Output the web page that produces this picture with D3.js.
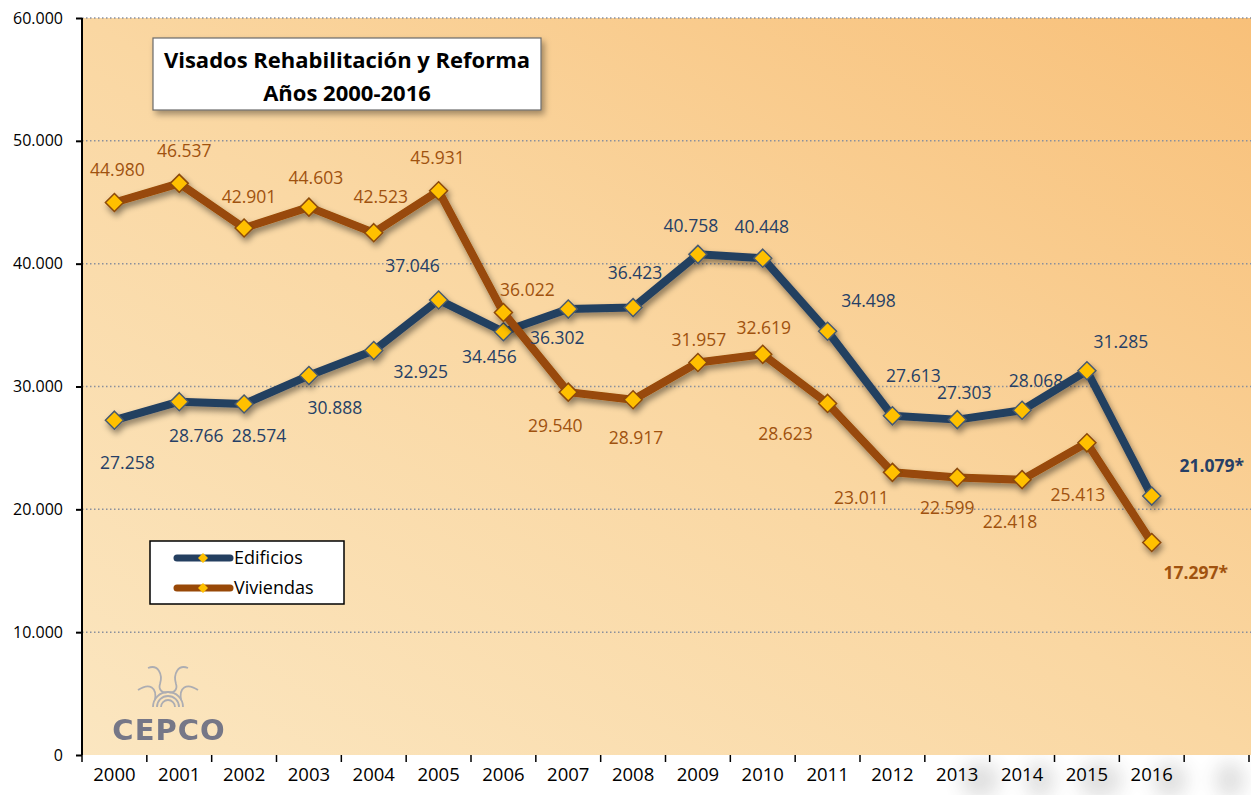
<!DOCTYPE html>
<html>
<head>
<meta charset="utf-8">
<script src="https://cdn.jsdelivr.net/npm/d3@7"></script>
<style>
  body { margin: 0; background: #fff; }
  svg { display: block; font-family: "Open Sans", "Noto Sans", sans-serif; }
</style>
</head>
<body>
<div id="chart"></div>
<script>
// Data
const years = ["2000", "2001", "2002", "2003", "2004", "2005", "2006", "2007", "2008",
  "2009", "2010", "2011", "2012", "2013", "2014", "2015", "2016"];
const edificios = [27258, 28766, 28574, 30888, 32925, 37046, 34456, 36302, 36423,
  40758, 40448, 34498, 27613, 27303, 28068, 31285, 21079];
const viviendas = [44980, 46537, 42901, 44603, 42523, 45931, 36022, 29540, 28917,
  31957, 32619, 28623, 23011, 22599, 22418, 25413, 17297];
const yTicks = [0, 10000, 20000, 30000, 40000, 50000, 60000];

// label placement relative to each point (dx, dy) - layout only
const edifOffsets = [[13, 49], [17, 40], [15, 38], [26, 38], [47, 27], [-26, -28], [-14, 31],
  [-11, 35], [2, -29], [-7, -22], [-1, -25], [41, -24], [21, -34], [7, -21], [14, -23], [34, -23], [60, -24]];
const vivOffsets = [[3, -26], [5, -26], [5, -25], [7, -23], [7, -30], [-1, -27], [24, -17],
  [-13, 40], [3, 44], [1, -16], [1, -20], [-42, 37], [-31, 32], [-10, 37], [-12, 48], [-9, 58], [44, 36]];

const width = 1251, height = 795;
const margin = { top: 18, left: 82, bottom: 40 };
const plotRight = 1249;
const NAVY = "#243f60", BROWN = "#984807", NAVY_TXT = "#263f66", BROWN_TXT = "#a0520f";

const fmt = v => d3.format(",")(v).replace(/,/g, ".");

const svg = d3.select("#chart").append("svg")
  .attr("width", width).attr("height", height);

const defs = svg.append("defs");
const grad = defs.append("linearGradient").attr("id", "bg")
  .attr("x1", "0%").attr("y1", "100%").attr("x2", "100%").attr("y2", "0%");
grad.append("stop").attr("offset", "0%").attr("stop-color", "#fbe6c0");
grad.append("stop").attr("offset", "50%").attr("stop-color", "#fad7a2");
grad.append("stop").attr("offset", "100%").attr("stop-color", "#f8c079");

const shadow = defs.append("filter").attr("id", "shadow")
  .attr("x", "-10%").attr("y", "-10%").attr("width", "130%").attr("height", "130%");
shadow.append("feDropShadow").attr("dx", 3).attr("dy", 4).attr("stdDeviation", 3)
  .attr("flood-color", "#000").attr("flood-opacity", 0.35);

const softShadow = defs.append("filter").attr("id", "soft")
  .attr("x", "-20%").attr("y", "-20%").attr("width", "140%").attr("height", "160%");
softShadow.append("feDropShadow").attr("dx", 2).attr("dy", 4).attr("stdDeviation", 3)
  .attr("flood-color", "#000").attr("flood-opacity", 0.45);

const blur = defs.append("filter").attr("id", "blur")
  .attr("x", "-50%").attr("y", "-50%").attr("width", "200%").attr("height", "200%");
blur.append("feGaussianBlur").attr("stdDeviation", 9);

const x = d3.scaleBand()
  .domain(years.concat([""]))
  .range([margin.left, plotRight]);
const y = d3.scaleLinear().domain([0, 60000]).range([height - margin.bottom, margin.top]);
const cx = d => x(d) + x.bandwidth() / 2;

// faint grey watermark below the axis, right side
const wm = svg.append("g").attr("filter", "url(#blur)").attr("opacity", 0.16);
[[980, 40], [1040, 30], [1100, 45], [1170, 35], [1230, 30]].forEach(([px, w]) => {
  wm.append("ellipse").attr("cx", px).attr("cy", 780).attr("rx", w / 2).attr("ry", 18).attr("fill", "#444");
});

// plot background
svg.append("rect")
  .attr("x", margin.left).attr("y", margin.top)
  .attr("width", width - margin.left).attr("height", y(0) - margin.top)
  .attr("fill", "url(#bg)");

// grid lines
svg.append("g").selectAll("line")
  .data(yTicks.filter(d => d > 0))
  .join("line")
  .attr("x1", margin.left).attr("x2", width)
  .attr("y1", d => y(d)).attr("y2", d => y(d))
  .attr("stroke", "#8a8f9c").attr("stroke-width", 1.5)
  .attr("stroke-dasharray", "1.5,2.5");

// logo
const logo = svg.append("g").attr("opacity", 0.8);
const lg = logo.append("g").attr("fill", "none").attr("stroke", "#9aa0b0").attr("stroke-width", 1.8);
[7, 11, 15].forEach(r => {
  lg.append("path").attr("d", d3.arc()({ innerRadius: r, outerRadius: r, startAngle: -Math.PI / 2, endAngle: Math.PI / 2 }))
    .attr("transform", "translate(168,707)");
});
lg.append("path").attr("d", "M148,668 C158,664 163,674 160,684 C158,690 163,694 168,692");
lg.append("path").attr("d", "M188,668 C178,664 173,674 176,684 C178,690 173,694 168,692");
lg.append("path").attr("d", "M138,690 C150,682 157,688 155,700");
lg.append("path").attr("d", "M198,690 C186,682 179,688 181,700");
logo.append("text")
  .attr("x", 169).attr("y", 740)
  .attr("text-anchor", "middle")
  .attr("font-family", "DejaVu Sans")
  .attr("font-weight", "bold")
  .attr("font-size", 29)
  .attr("letter-spacing", 1)
  .attr("fill", "#555c7a")
  .text("CEPCO");

// series lines
const line = d3.line().x((d, i) => cx(years[i])).y(d => y(d));
const series = [
  { name: "Edificios", values: edificios, color: NAVY, text: NAVY_TXT, offsets: edifOffsets },
  { name: "Viviendas", values: viviendas, color: BROWN, text: BROWN_TXT, offsets: vivOffsets }
];

const diamond = (px, py, s) => `M${px},${py - s} L${px + s},${py} L${px},${py + s} L${px - s},${py} Z`;

series.forEach(s => {
  const g = svg.append("g").attr("filter", "url(#soft)");
  g.append("path")
    .datum(s.values)
    .attr("d", line)
    .attr("fill", "none")
    .attr("stroke", s.color)
    .attr("stroke-width", 8)
    .attr("stroke-linejoin", "round");
  g.selectAll("path.marker")
    .data(s.values)
    .join("path")
    .attr("class", "marker")
    .attr("d", (d, i) => diamond(cx(years[i]), y(d), 9))
    .attr("fill", "#ffc000")
    .attr("stroke", s.color === NAVY ? "#4a5a6e" : "#8c4a0a")
    .attr("stroke-width", 1.5);
});

// value labels
series.forEach(s => {
  svg.append("g").selectAll("text")
    .data(s.values)
    .join("text")
    .attr("x", (d, i) => cx(years[i]) + s.offsets[i][0])
    .attr("y", (d, i) => y(d) + s.offsets[i][1])
    .attr("text-anchor", "middle")
    .attr("font-size", 17.5)
    .attr("font-weight", (d, i) => i === years.length - 1 ? "bold" : "normal")
    .attr("fill", s.text)
    .text((d, i) => fmt(d) + (i === years.length - 1 ? "*" : ""));
});

// axes
const xAxis = svg.append("g")
  .attr("transform", `translate(0,${y(0)})`)
  .call(d3.axisBottom(x).tickSize(0).tickFormat(d => d));
xAxis.select(".domain").remove();
xAxis.selectAll("text").attr("font-size", 18.5).attr("fill", "#000").attr("dy", "1.25em")
  .attr("font-family", "Open Sans");
svg.append("g").selectAll("line")
  .data(x.domain())
  .join("line")
  .attr("x1", d => x(d)).attr("x2", d => x(d))
  .attr("y1", y(0)).attr("y2", y(0) + 7)
  .attr("stroke", "#000").attr("stroke-width", 1.5);
svg.append("line")
  .attr("x1", plotRight).attr("x2", plotRight)
  .attr("y1", y(0)).attr("y2", y(0) + 7)
  .attr("stroke", "#000").attr("stroke-width", 1.5);
svg.append("line")
  .attr("x1", margin.left - 6).attr("x2", width)
  .attr("y1", y(0)).attr("y2", y(0))
  .attr("stroke", "#000").attr("stroke-width", 2)
  .attr("filter", "url(#shadow)");

const yAxis = svg.append("g")
  .attr("transform", `translate(${margin.left},0)`)
  .call(d3.axisLeft(y).tickValues(yTicks).tickSize(6).tickPadding(13).tickFormat(fmt));
yAxis.select(".domain").attr("stroke-width", 2).attr("d", `M0,${y(60000)}V${y(0)}`);
yAxis.selectAll(".tick line").attr("stroke-width", 2);
yAxis.selectAll("text").attr("font-size", 16).attr("fill", "#000").attr("font-family", "Open Sans");

// title box
const tb = svg.append("g");
tb.append("rect")
  .attr("x", 153).attr("y", 38).attr("width", 388).attr("height", 72)
  .attr("fill", "#fff").attr("stroke", "#6b6b6b").attr("stroke-width", 1.2)
  .attr("filter", "url(#shadow)");
tb.append("text").attr("x", 347).attr("y", 68).attr("text-anchor", "middle")
  .attr("font-size", 22).attr("font-weight", "bold").attr("fill", "#000")
  .text("Visados Rehabilitación y Reforma");
tb.append("text").attr("x", 347).attr("y", 101).attr("text-anchor", "middle")
  .attr("font-size", 22).attr("font-weight", "bold").attr("fill", "#000")
  .text("Años 2000-2016");

// legend
const lgd = svg.append("g");
lgd.append("rect")
  .attr("x", 150).attr("y", 541).attr("width", 194).attr("height", 63)
  .attr("fill", "#fff").attr("stroke", "#000").attr("stroke-width", 1.5);
series.forEach((s, i) => {
  const ly = 558 + i * 30;
  lgd.append("line")
    .attr("x1", 177).attr("x2", 230).attr("y1", ly).attr("y2", ly)
    .attr("stroke", s.color).attr("stroke-width", 7).attr("stroke-linecap", "round");
  lgd.append("path").attr("d", diamond(203, ly, 5)).attr("fill", "#ffc000");
  lgd.append("text").attr("x", 234).attr("y", ly + 6)
    .attr("font-size", 18).attr("fill", "#000").text(s.name);
});
</script>
</body>
</html>
